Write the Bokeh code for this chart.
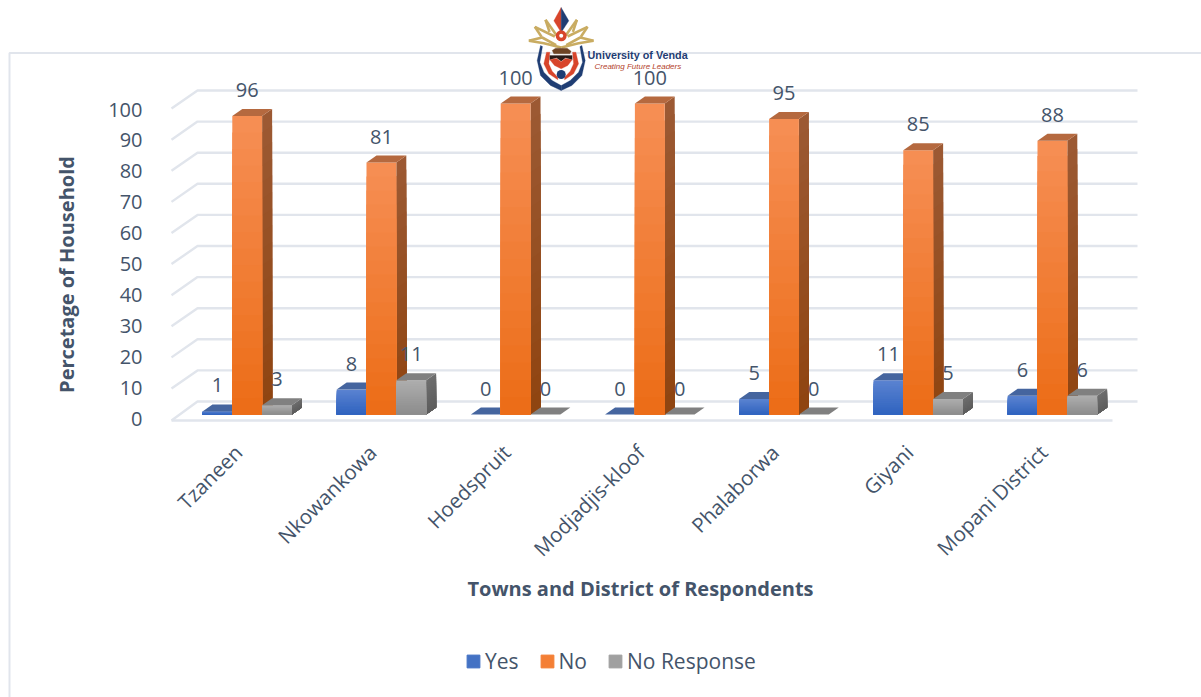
import math
from bokeh.embed import file_html
from bokeh.resources import INLINE
from bokeh.plotting import figure
from bokeh.core.properties import value
from bokeh.models import (BoxAnnotation, FixedTicker, Label, Legend, LegendItem,
                          LinearAxis, Range1d)

# ---- data -------------------------------------------------------------
towns = ["Tzaneen", "Nkowankowa", "Hoedspruit", "Modjadjis-kloof",
         "Phalaborwa", "Giyani", "Mopani District"]
yes = [1, 8, 0, 0, 5, 11, 6]
no = [96, 81, 100, 100, 95, 85, 88]
no_response = [3, 11, 0, 0, 0, 5, 6]
y_ticks = [0, 10, 20, 30, 40, 50, 60, 70, 80, 90, 100]
series_names = ["Yes", "No", "No Response"]
series_values = [yes, no, no_response]
y_title = "Percetage of Household"
x_title = "Towns and District of Respondents"
logo_title = "University of Venda"
logo_motto = "Creating Future Leaders"

# ---- style ------------------------------------------------------------
TXT = "#44546A"
GRID = "#E1E5EC"
FONT = "Open Sans"
front_cols = [("#5B83D1", "#2F63BF"), ("#F68F55", "#EC6C16"), ("#AEAEAE", "#8C8C8C")]
side_cols = [("#3B5A94", "#264C90"), ("#9C5A34", "#8F4410"), ("#6F6F6F", "#5C5C5C")]
top_cols = ["#45659F", "#B5693F", "#808080"]
legend_cols = ["#4472C4", "#F47F35", "#A0A0A0"]

W, H = 1201, 697
GROUP_PX, X0_PX = 134.2, 246.7       # px per category, px of category 0
UNIT_PX, Y0_PX = 3.11, 414.0         # px per percent, px of value 0
LABEL_SHIFT_PX = 9


def dx(px):
    return (px - X0_PX) / GROUP_PX


def dy(py):
    return (Y0_PX - py) / UNIT_PX


p = figure(width=W, height=H, output_backend="svg", toolbar_location=None,
           x_range=Range1d(dx(0), dx(W)),
           y_range=Range1d(dy(H), dy(0)),
           x_axis_location=None, y_axis_location=None,
           min_border_left=0, min_border_right=0, min_border_top=0,
           min_border_bottom=0, outline_line_color=None,
           background_fill_color="white", border_fill_color="white")
p.grid.visible = False

# ---- axes: real axes whose labels are pulled back over the full-size frame ----
p.extra_x_ranges = {"names": Range1d(dx(LABEL_SHIFT_PX), dx(W + LABEL_SHIFT_PX))}
xa = LinearAxis(x_range_name="names", ticker=FixedTicker(ticks=list(range(len(towns)))),
                major_label_overrides={i: t for i, t in enumerate(towns)},
                major_label_orientation=math.pi / 4,
                major_label_text_font=FONT, major_label_text_font_size="20.5px",
                major_label_text_color=TXT, major_label_standoff=-255,
                axis_line_color=None, major_tick_line_color=None, minor_tick_line_color=None)
p.add_layout(xa, "below")

LABEL_0, LABEL_UNIT = 418.0, 3.09
p.extra_y_ranges = {"front": Range1d((LABEL_0 - H) / LABEL_UNIT, LABEL_0 / LABEL_UNIT)}
ya = LinearAxis(y_range_name="front", ticker=FixedTicker(ticks=y_ticks),
                major_label_text_font=FONT, major_label_text_font_size="20px",
                major_label_text_color=TXT, major_label_standoff=-148,
                axis_line_color=None, major_tick_line_color=None,
                minor_tick_line_color=None)
p.add_layout(ya, "left")

# ---- chart frame line --------------------------------------------------
p.add_layout(BoxAnnotation(left=dx(9), right=dx(1400), top=dy(52.5), bottom=dy(1200),
                           fill_alpha=0, line_color=GRID, line_alpha=1, line_width=2, level="underlay"))

# ---- 3-D walls: grid lines ---------------------------------------------
back_lift = (Y0_PX - 401) / UNIT_PX
front_lift = (Y0_PX - 420) / UNIT_PX
back_l, back_r, front_l, front_r = dx(197), dx(1137), dx(171), dx(1112)
gx, gy = [], []
for t in y_ticks:
    gx.append([front_l, back_l, back_r])
    gy.append([t + front_lift + (0 if t == 0 else 0.3), t + back_lift, t + back_lift])
gx.append([front_l, front_r])
gy.append([front_lift, front_lift])
p.multi_line(gx, gy, line_color=GRID, line_width=2.4)


# ---- bars --------------------------------------------------------------
def mix(c0, c1, f):
    a = [int(c0[i:i + 2], 16) for i in (1, 3, 5)]
    b = [int(c1[i:i + 2], 16) for i in (1, 3, 5)]
    return "#%02x%02x%02x" % tuple(round(u + (v - u) * f) for u, v in zip(a, b))


BAR_W = 1 / 4.5
DEPTH_X, DEPTH_Y = 10 / GROUP_PX, 7 / UNIT_PX
BANDS = 18
xs, ys, cs = [], [], []
for g in range(len(towns)):
    for s, vals in enumerate(series_values):
        v = vals[g]
        l = g + (s - 1.5) * BAR_W
        r = l + BAR_W
        # painter's gradient: each band runs from its own top to the bar's foot
        for k in range(BANDS if v > 0 else 0):
            v1 = v * (1 - k / BANDS)
            xs.append([r, r + DEPTH_X, r + DEPTH_X, r])
            ys.append([0, DEPTH_Y, v1 + DEPTH_Y, v1])
            cs.append(mix(*side_cols[s], (k + 0.5) / BANDS))
        for k in range(BANDS if v > 0 else 0):
            v1 = v * (1 - k / BANDS)
            xs.append([l, r, r, l])
            ys.append([0, 0, v1, v1])
            cs.append(mix(*front_cols[s], (k + 0.5) / BANDS))
        xs.append([l, r, r + DEPTH_X, l + DEPTH_X])
        ys.append([v, v, v + DEPTH_Y, v + DEPTH_Y])
        cs.append(top_cols[s])
p.patches(xs, ys, fill_color=cs, line_color=None)

# ---- value labels ------------------------------------------------------
lx, ly, lt = [], [], []
for g in range(len(towns)):
    for s, vals in enumerate(series_values):
        lx.append(g + (s - 1) * BAR_W)
        ly.append(vals[g])
        lt.append(str(vals[g]))
p.text(lx, ly, text=lt, text_font=value(FONT), text_font_size="20px", text_color=TXT,
       text_align="center", text_baseline="middle", y_offset=-26)

# ---- logo (decoration) -------------------------------------------------
MID = 560.7


def mirror(pts):
    return [(2 * MID - x, y) for x, y in pts]


def add_poly(pts, color):
    p.patch([dx(x) for x, y in pts], [dy(y) for x, y in pts], fill_color=color, line_color=color, line_width=0.3)


def z6(*pts):
    return [(525 + a / 3, 2 + b / 3) for a, b in pts]


def z2(*pts):
    return [(480 + a / 3, b / 3) for a, b in pts]


NAVY, RED, GOLD = "#1F3D73", "#D8452B", "#C9AC62"
gold_lines = [z6((10, 115), (50, 105), (92, 128)), z6((28, 73), (48, 103)),
              z6((28, 73), (88, 102)), z6((60, 52), (72, 88)), z6((60, 52), (93, 98)),
              z6((10, 115), (55, 122), (107, 135))]
for ln in gold_lines:
    for side in (ln, mirror(ln)):
        p.line([dx(x) for x, y in side], [dy(y) for x, y in side], line_color=GOLD, line_width=2.6)
add_poly(z6((107, 15), (85, 55), (107, 90)), RED)
add_poly(z6((107, 15), (130, 55), (107, 90)), NAVY)
cog_x, cog_y = dx(MID), dy(35.3)
p.scatter([cog_x], [cog_y], size=11, marker="circle", fill_color=RED, line_color=None)
p.scatter([cog_x], [cog_y], size=4, marker="circle", fill_color="white", line_color=None)

outer = z2((180, 135), (170, 180), (180, 225), (210, 255), (242, 270))
inner = z2((242, 255), (215, 240), (190, 215), (178, 185), (186, 138))
add_poly(outer + inner, NAVY)
add_poly(mirror(outer) + mirror(inner), NAVY)
r_a = z2((198, 155), (190, 190), (205, 220), (232, 238), (232, 230), (215, 212), (205, 190), (208, 155))
add_poly(r_a, RED)
add_poly(mirror(r_a), RED)
p.scatter([cog_x], [dy(74)], size=9, marker="circle", fill_color=NAVY, line_color=None)
add_poly(z2((215, 150), (225, 143), (260, 143), (272, 152), (268, 160), (220, 160)), "#6E4425")
add_poly(z2((208, 165), (275, 165), (275, 178), (255, 172), (242, 182), (228, 172), (208, 178)), "#2B1B17")
add_poly(z2((208, 178), (228, 174), (242, 184), (255, 174), (275, 178), (262, 195), (242, 205), (222, 195)), RED)
p.add_layout(Label(x=dx(587), y=dy(54), text=logo_title, text_font="Liberation Sans", text_font_size="10.8px",
                   text_font_style="bold", text_color=NAVY, text_align="left", text_baseline="middle"))
p.add_layout(Label(x=dx(594), y=dy(66), text=logo_motto, text_font="Liberation Sans", text_font_size="8px",
                   text_font_style="italic", text_color="#B4432C", text_align="left", text_baseline="middle"))

# ---- axis titles -------------------------------------------------------
p.add_layout(Label(x=dx(66), y=dy(274), text=y_title, angle=90, angle_units="deg", text_font=FONT,
                   text_font_size="20px", text_font_style="bold", text_color=TXT,
                   text_align="center", text_baseline="middle"))
p.add_layout(Label(x=dx(640), y=dy(588), text=x_title, text_font=FONT, text_font_size="20px",
                   text_font_style="bold", text_color=TXT, text_align="center", text_baseline="middle"))

# ---- legend ------------------------------------------------------------
items = []
for name, col in zip(series_names, legend_cols):
    r = p.quad(left=[dx(-60)], right=[dx(-50)], top=[dy(-50)], bottom=[dy(-60)],
               fill_color=col, line_color=col)
    items.append(LegendItem(label=name, renderers=[r]))
leg = Legend(items=items, orientation="horizontal", location=(465, H - 675),
             glyph_width=16, glyph_height=16, label_standoff=4, spacing=20, padding=0, margin=0,
             border_line_color=None, background_fill_alpha=0,
             label_text_font=FONT, label_text_font_size="21px", label_text_color=TXT)
p.add_layout(leg, "center")

open("out.html", "w").write(file_html(p, INLINE))
